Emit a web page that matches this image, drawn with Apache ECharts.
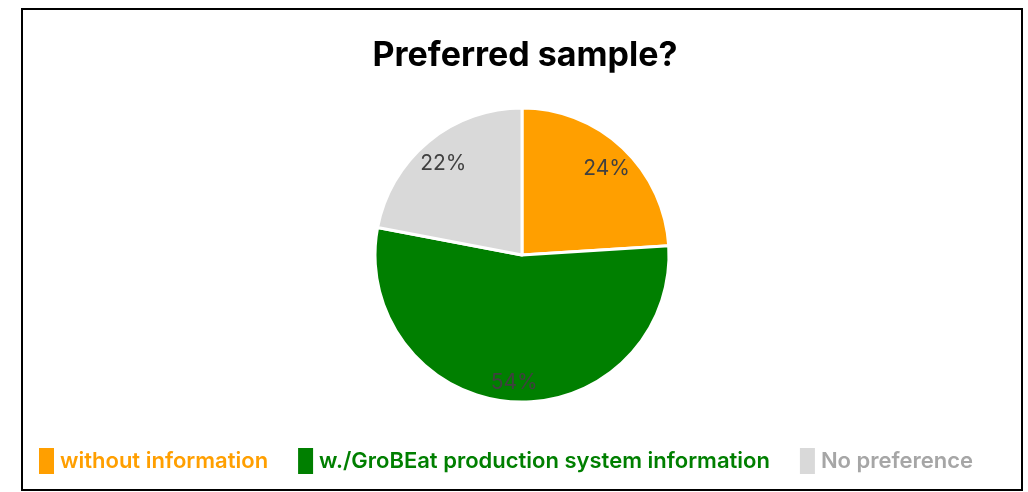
<!DOCTYPE html>
<html>
<head>
<meta charset="utf-8">
<script src="https://cdn.jsdelivr.net/npm/echarts@6/dist/echarts.min.js"></script>
<style>
  html, body { margin: 0; padding: 0; background: #fff; }
  #chart { width: 1028px; height: 492px; }
</style>
</head>
<body>
<div id="chart"></div>
<script>
// Preference shares for the tasting question
const categories = ['without information', 'w./GroBEat production system information', 'No preference'];
const shares = [24, 54, 22];
const sliceColors = ['#ff9f00', '#007f00', '#d9d9d9'];
const legendColors = ['#ff9f00', '#007f00', '#a6a6a6'];

const FONT = 'Inter, "Noto Sans", sans-serif';
const center = [522, 255];
const radius = 147;

const pieData = categories.map((name, i) => ({
  name,
  value: shares[i],
  itemStyle: { color: sliceColors[i] }
}));

const chart = echarts.init(document.getElementById('chart'), null, { renderer: 'canvas' });
chart.setOption({
  animation: false,
  backgroundColor: '#ffffff',
  title: {
    text: 'Preferred sample?',
    left: 520,
    top: 34,
    textAlign: 'center',
    textStyle: { fontFamily: FONT, fontSize: 34, fontWeight: 'bold', color: '#000' }
  },
  legend: {
    data: categories.map((name, i) => ({ name, textStyle: { color: legendColors[i] } })),
    top: 446,
    left: 37,
    padding: 0,
    icon: 'rect',
    itemWidth: 17,
    itemHeight: 28,
    itemGap: 28,
    textStyle: {
      fontFamily: FONT,
      fontSize: 22,
      fontWeight: 600
    }
  },
  series: [
    {
      type: 'pie',
      center,
      radius: [0, radius],
      startAngle: 90,
      clockwise: true,
      data: pieData,
      itemStyle: { borderColor: '#fff', borderWidth: 3 },
      label: { show: false },
      labelLine: { show: false }
    },
    {
      // transparent ring used only to seat the percent labels further out
      type: 'pie',
      center,
      radius: [radius * 0.64, radius],
      startAngle: 90,
      clockwise: true,
      silent: true,
      data: pieData.map(d => ({ name: d.name, value: d.value, itemStyle: { color: 'rgba(0,0,0,0)' } })),
      itemStyle: { borderWidth: 0 },
      label: {
        show: true,
        position: 'inside',
        formatter: '{d}%',
        fontFamily: FONT,
        fontSize: 21,
        color: '#404040',
        offset: [0, 4]
      },
      labelLine: { show: false },
      emphasis: { disabled: true }
    }
  ],
  graphic: [
    {
      type: 'rect',
      shape: { x: 22, y: 9, width: 1000, height: 481 },
      style: { fill: 'none', stroke: '#000', lineWidth: 2 },
      silent: true,
      z: 100
    }
  ]
});
</script>
</body>
</html>
